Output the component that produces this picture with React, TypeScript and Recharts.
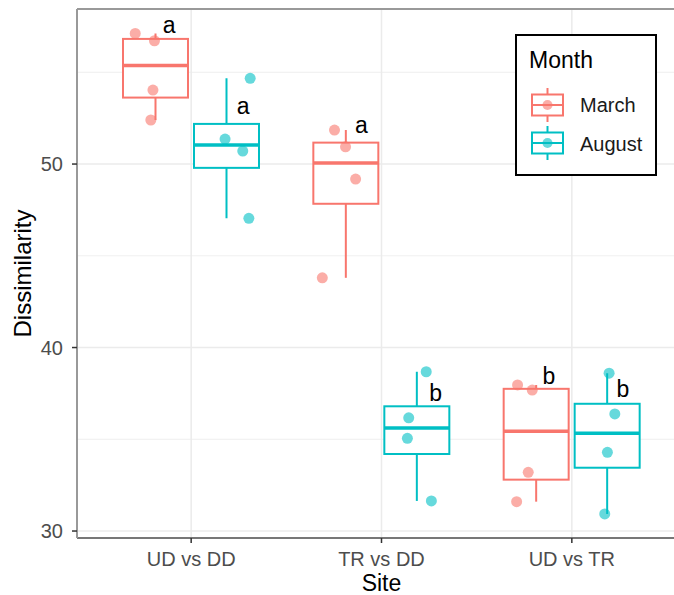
import React from 'react';
import {
    ComposedChart,
    Bar,
    Scatter,
    XAxis,
    YAxis,
    CartesianGrid,
    Legend,
    ReferenceLine,
} from 'recharts';

const FONT = '"Liberation Sans", Arial, sans-serif';
const MARCH = '#F8766D';
const AUGUST = '#00BFC4';

const sites = ['UD vs DD', 'TR vs DD', 'UD vs TR'];
const months = ['March', 'August'];

// raw dissimilarities, 4 per box
const marchValues = [
    [57.12, 56.72, 54.03, 52.4],
    [51.85, 50.94, 49.18, 43.8],
    [37.96, 37.68, 33.2, 31.6],
];
const augustValues = [
    [54.67, 51.36, 50.71, 47.04],
    [38.68, 36.17, 35.05, 31.64],
    [38.6, 36.38, 34.29, 30.93],
];
// horizontal jitter of each point, in category units from the site centre
const marchJitter = [
    [-0.294, -0.193, -0.201, -0.212],
    [-0.247, -0.189, -0.136, -0.311],
    [-0.285, -0.208, -0.229, -0.29],
];
const augustJitter = [
    [0.31, 0.178, 0.271, 0.303],
    [0.235, 0.143, 0.136, 0.262],
    [0.196, 0.226, 0.187, 0.173],
];

// significance letters
const marchLetters = ['a', 'a', 'b'];
const augustLetters = ['a', 'b', 'b'];
const marchLetterY = [57.12, 51.67, 37.99];
const augustLetterY = [52.72, 37.1, 37.32];
const marchLetterDx = [-0.116, -0.105, -0.121];
const augustLetterDx = [0.273, 0.284, 0.268];

const yTicks = [30, 40, 50];
const yMinor = [35, 45, 55];
const Y_MIN = 29.62;
const Y_MAX = 58.45;

function quantile(sorted: number[], p: number) {
    const h = (sorted.length - 1) * p;
    const lo = Math.floor(h);
    const hi = Math.min(lo + 1, sorted.length - 1);
    return sorted[lo] + (h - lo) * (sorted[hi] - sorted[lo]);
}

function boxStats(values: number[]) {
    const s = [...values].sort((a, b) => a - b);
    const q1 = quantile(s, 0.25);
    const med = quantile(s, 0.5);
    const q3 = quantile(s, 0.75);
    const iqr = q3 - q1;
    const lo = Math.min(...s.filter((v) => v >= q1 - 1.5 * iqr));
    const hi = Math.max(...s.filter((v) => v <= q3 + 1.5 * iqr));
    return { q1, med, q3, lo, hi };
}

const boxData = sites.map((site, i) => ({
    site,
    march: boxStats(marchValues[i]),
    august: boxStats(augustValues[i]),
}));

const pointsOf = (values: number[][], jitter: number[][]) =>
    values.flatMap((row, i) => row.map((v, j) => ({ x: i + 1 + jitter[i][j], y: v })));

const marchPoints = pointsOf(marchValues, marchJitter);
const augustPoints = pointsOf(augustValues, augustJitter);

const marchLabels = sites.map((_, i) => ({ x: i + 1 + marchLetterDx[i], y: marchLetterY[i], text: marchLetters[i] }));
const augustLabels = sites.map((_, i) => ({ x: i + 1 + augustLetterDx[i], y: augustLetterY[i], text: augustLetters[i] }));

const boxRange = (key: 'march' | 'august') => (d: any) => (d && d[key] ? [d[key].q1, d[key].q3] : null);

const BoxShape = (props: any) => {
    const { x, y, width, height, stats, color } = props;
    if (!stats || !height) return null;
    const k = height / (stats.q3 - stats.q1);
    const yOf = (v: number) => y + (stats.q3 - v) * k;
    const cx = x + width / 2;
    return (
        <g>
            <line x1={cx} x2={cx} y1={yOf(stats.hi)} y2={y} stroke={color} strokeWidth={2} />
            <line x1={cx} x2={cx} y1={y + height} y2={yOf(stats.lo)} stroke={color} strokeWidth={2} />
            <rect x={x} y={y} width={width} height={height} fill="#fff" stroke={color} strokeWidth={2} />
            <line x1={x} x2={x + width} y1={yOf(stats.med)} y2={yOf(stats.med)} stroke={color} strokeWidth={3.5} />
        </g>
    );
};

const Dot = (color: string) => (props: any) => (
    <circle cx={props.cx} cy={props.cy} r={5.5} fill={color} fillOpacity={0.6} />
);

const Letter = (props: any) => (
    <text x={props.cx} y={props.cy} textAnchor="middle" fontSize={23} fontFamily={FONT} fill="#000">
        {props.payload?.text}
    </text>
);

const KeyGlyph = ({ cy, color }: { cy: number; color: string }) => (
    <g>
        <line x1={32.5} x2={32.5} y1={cy - 17} y2={cy + 17} stroke={color} strokeWidth={2} />
        <rect x={17} y={cy - 10.5} width={31} height={21} fill="#fff" stroke={color} strokeWidth={2} />
        <line x1={17} x2={48} y1={cy} y2={cy} stroke={color} strokeWidth={2} />
        <circle cx={32.5} cy={cy} r={5} fill={color} fillOpacity={0.6} />
    </g>
);

const LegendBox = () => (
    <svg width={142} height={142} style={{ display: 'block' }}>
        <rect x={1} y={1} width={140} height={140} fill="#fff" stroke="#000" strokeWidth={2} />
        <text x={14} y={34} fontSize={23} fontFamily={FONT} fill="#000">Month</text>
        <KeyGlyph cy={71} color={MARCH} />
        <text x={65} y={78} fontSize={20} fontFamily={FONT} fill="#1a1a1a">{months[0]}</text>
        <KeyGlyph cy={109} color={AUGUST} />
        <text x={65} y={116.5} fontSize={20} fontFamily={FONT} fill="#1a1a1a">{months[1]}</text>
    </svg>
);

const axisTick = { fill: '#4D4D4D', fontSize: 20, fontFamily: FONT };

export default function App() {
    return (
        <div style={{ position: 'absolute', left: 0, top: 0, width: 674, height: 595, overflow: 'hidden', background: '#fff' }}>
            <ComposedChart
                width={700}
                height={595}
                data={boxData}
                margin={{ top: 9, right: 14, bottom: 0, left: 0 }}
                barGap={6}
            >
                <CartesianGrid horizontalValues={yMinor} vertical={false} stroke="#EBEBEB" strokeWidth={0.8} />
                <CartesianGrid horizontalValues={yTicks} stroke="#EBEBEB" strokeWidth={1.5} />
                <XAxis
                    dataKey="site"
                    type="category"
                    padding={{ left: 19, right: 19 }}
                    height={57}
                    tick={axisTick}
                    tickSize={5}
                    tickMargin={9}
                    tickLine={{ stroke: '#333', strokeWidth: 1.5 }}
                    axisLine={{ stroke: '#777', strokeWidth: 2 }}
                    label={(p: any) => (
                        <text
                            x={p.viewBox.x + p.viewBox.width / 2}
                            y={p.viewBox.y + 53}
                            textAnchor="middle"
                            fontSize={23}
                            fontFamily={FONT}
                            fill="#000"
                        >
                            Site
                        </text>
                    )}
                />
                <XAxis xAxisId="num" dataKey="x" type="number" domain={[0.4, 3.6]} allowDataOverflow hide />
                <YAxis
                    type="number"
                    domain={[Y_MIN, Y_MAX]}
                    allowDataOverflow
                    ticks={yTicks}
                    width={77}
                    tick={axisTick}
                    tickSize={5}
                    tickMargin={9}
                    tickLine={{ stroke: '#333', strokeWidth: 1.5 }}
                    axisLine={{ stroke: '#999', strokeWidth: 2 }}
                    label={(p: any) => {
                        const cx = 31;
                        const cy = p.viewBox.y + p.viewBox.height / 2;
                        return (
                            <text
                                x={cx}
                                y={cy}
                                transform={`rotate(-90, ${cx}, ${cy})`}
                                textAnchor="middle"
                                fontSize={24}
                                fontFamily={FONT}
                                fill="#000"
                            >
                                Dissimilarity
                            </text>
                        );
                    }}
                />
                <ReferenceLine y={Y_MAX} stroke="#999" strokeWidth={2} />
                <Bar
                    dataKey={boxRange('march')}
                    name="March"
                    barSize={65}
                    isAnimationActive={false}
                    shape={(p: any) => <BoxShape {...p} stats={p.payload?.march} color={MARCH} />}
                />
                <Bar
                    dataKey={boxRange('august')}
                    name="August"
                    barSize={65}
                    isAnimationActive={false}
                    shape={(p: any) => <BoxShape {...p} stats={p.payload?.august} color={AUGUST} />}
                />
                <Scatter xAxisId="num" data={marchPoints} dataKey="y" isAnimationActive={false} shape={Dot(MARCH)} />
                <Scatter xAxisId="num" data={augustPoints} dataKey="y" isAnimationActive={false} shape={Dot(AUGUST)} />
                <Scatter xAxisId="num" data={marchLabels} dataKey="y" isAnimationActive={false} shape={Letter} />
                <Scatter xAxisId="num" data={augustLabels} dataKey="y" isAnimationActive={false} shape={Letter} />
                <Legend
                    content={LegendBox}
                    layout="vertical"
                    align="center"
                    verticalAlign="middle"
                    wrapperStyle={{ left: 515, top: 34, width: 142, height: 142 }}
                />
            </ComposedChart>
        </div>
    );
}
